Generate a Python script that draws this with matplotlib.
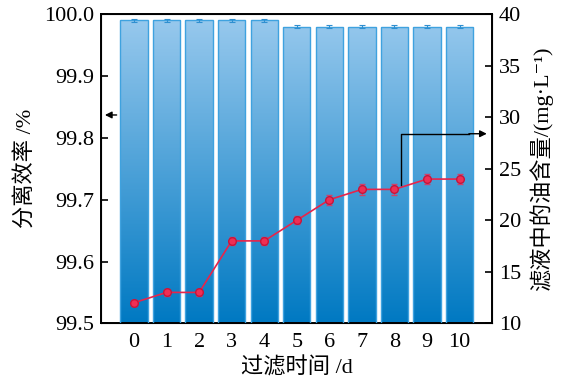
import numpy as np
import matplotlib
matplotlib.use('Agg')
import matplotlib.pyplot as plt
from matplotlib.colors import LinearSegmentedColormap

plt.rcParams['font.family'] = ['Liberation Serif', 'DejaVu Serif', 'Noto Sans CJK SC']

days = [0, 1, 2, 3, 4, 5, 6, 7, 8, 9, 10]
efficiency = [99.99, 99.99, 99.99, 99.99, 99.99, 99.98, 99.98, 99.98, 99.98, 99.98, 99.98]
eff_err = [0.003] * 11
oil = [12.0, 13.0, 13.0, 18.0, 18.0, 20.0, 22.0, 23.0, 23.0, 24.0, 24.0]
oil_err = [0.3, 0.3, 0.3, 0.4, 0.4, 0.4, 0.5, 0.5, 0.5, 0.5, 0.5]

fig = plt.figure(figsize=(5.67, 3.84), dpi=100)
ax = fig.add_axes([0.179, 0.158, 0.689, 0.805])

bars = ax.bar(days, efficiency, width=0.84, color='none', edgecolor='#3FA2DF', linewidth=1.0, zorder=3)
cmap = LinearSegmentedColormap.from_list('bluegrad', ['#0079C2', '#9ACAEE'])
grad = np.linspace(0, 1, 256).reshape(-1, 1)
for b in bars:
    im = ax.imshow(grad, cmap=cmap, aspect='auto', origin='lower',
                   extent=[-1, 11, 99.5, 100.0], zorder=2)
    im.set_clip_path(b)
ax.errorbar(days, efficiency, yerr=eff_err, fmt='none', ecolor='#2F8FD0',
            elinewidth=0.8, capsize=2.5, capthick=0.8, zorder=4)

ax.set_xlim(-1, 11)
ax.set_ylim(99.5, 100.0)
ax.set_xticks(days)
ax.set_yticks([99.5, 99.6, 99.7, 99.8, 99.9, 100.0])
ax.set_yticklabels(['99.5', '99.6', '99.7', '99.8', '99.9', '100.0'])
ax.tick_params(direction='in', labelsize=16, width=1.2, length=5, pad=5)
ax.tick_params(axis='x', pad=7)
ax.set_xlabel('过滤时间 /d', fontsize=16, labelpad=4)
ax.set_ylabel('分离效率 /%', fontsize=16, labelpad=6)
for s in ax.spines.values():
    s.set_linewidth(1.4)

ax2 = ax.twinx()
ax2.errorbar(days, oil, yerr=oil_err, color='#E8244A', marker='o', markersize=5.5,
             markerfacecolor='#EE2F55', markeredgecolor='#C8143A', linewidth=1.2,
             elinewidth=0.8, capsize=2, ecolor='#D0406A', zorder=5)
ax2.set_ylim(10, 40)
ax2.set_yticks([10, 15, 20, 25, 30, 35, 40])
ax2.tick_params(direction='in', labelsize=16, width=1.2, length=5, pad=5)
ax2.set_ylabel('滤液中的油含量/(mg·L⁻¹)', fontsize=16, labelpad=6)

ax.annotate('', xy=(-0.98, 99.837), xytext=(-0.45, 99.837),
            arrowprops=dict(arrowstyle='-|>', color='black', lw=1.0, mutation_scale=10), zorder=6)
ax2.plot([8.21, 8.21, 10.3], [23.4, 28.4, 28.4], color='black', lw=1.0, zorder=6)
ax2.annotate('', xy=(10.92, 28.4), xytext=(10.2, 28.4),
             arrowprops=dict(arrowstyle='-|>', color='black', lw=1.0, mutation_scale=10), zorder=6)

fig.savefig('out.png', dpi=100)
